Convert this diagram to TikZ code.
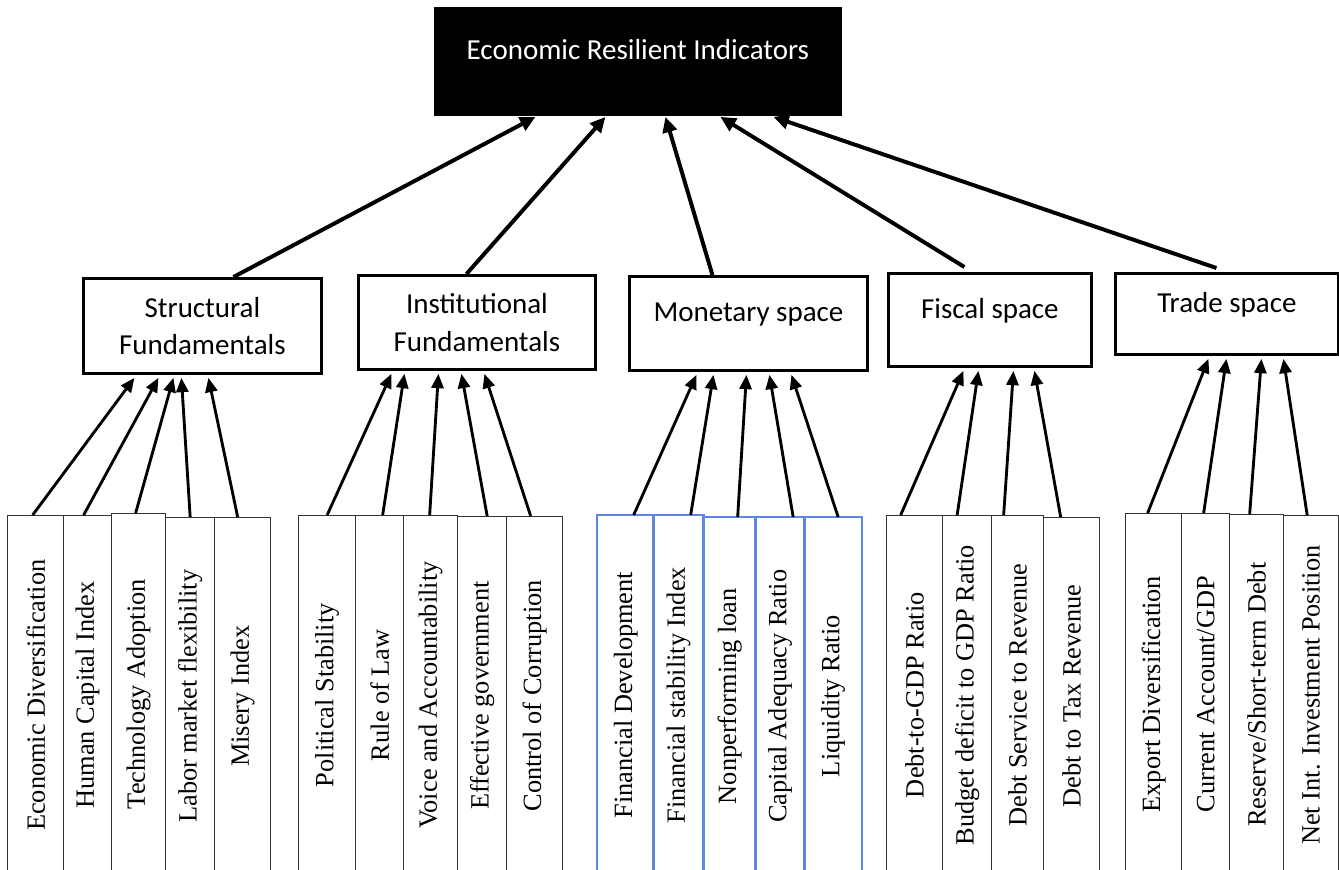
\documentclass[tikz,border=0pt]{standalone}
\usepackage{fontspec}
\setmainfont{Liberation Serif}
\newfontfamily\calibri{Carlito}
\usepackage{tikz}
\usetikzlibrary{arrows.meta}
\usetikzlibrary{calc,positioning}
\usepackage{xcolor}
\definecolor{mblue}{RGB}{95,135,225}
\newcommand{\pxlen}{0.016cm}
\tikzstyle{upper>}=[line width=1.8pt, -{Triangle[length=7pt,width=6.5pt]}]
\tikzstyle{lower>}=[line width=1.3pt, -{Triangle[length=6.5pt,width=5.5pt]}]
\tikzstyle{groupbox}=[draw, line width=1.3pt, anchor=north west, inner sep=0pt, align=center, font=\calibri\fontsize{13.2}{17}\selectfont]
\tikzstyle{oneline}=[text height=4pt, text depth=5.5pt]
\tikzstyle{itembox}=[line width=0.6pt, anchor=north west, inner sep=0pt, font=\fontsize{12}{14}\selectfont]

\begin{document}
\begin{tikzpicture}[x=\pxlen, y=-\pxlen]
\useasboundingbox (0,0) rectangle (1339,869);

% top
\node[draw, fill=black, text=white, anchor=north west, inner sep=0pt, oneline,
  minimum width=407*\pxlen, minimum height=108*\pxlen,
  font=\calibri\fontsize{13.2}{17}\selectfont] (eri) at (434,7) {Economic Resilient Indicators};

% groups
\node[groupbox, minimum width=238*\pxlen, minimum height=95*\pxlen] (sf) at (82,277) {Structural\\Fundamentals};
\node[groupbox, minimum width=237*\pxlen, minimum height=94*\pxlen] (nf) at (357,274) {Institutional\\Fundamentals};
\node[groupbox, oneline, minimum width=238*\pxlen, minimum height=94*\pxlen] (ms) at (628,275) {Monetary space};
\node[groupbox, oneline, minimum width=203*\pxlen, minimum height=93*\pxlen] (fs) at (887,272) {Fiscal space};
\node[groupbox, oneline, minimum width=223*\pxlen, minimum height=81*\pxlen] (ts) at (1114,272) {Trade space};

% indicators
\foreach \nm/\lx/\w/\tp/\cl/\txt in {
  ed/7/56/515/black!80/Economic Diversification,
  hc/63/48/515/black!80/Human Capital Index,
  ta/111/54/513/black!80/Technology Adoption,
  lm/165/49/517/black!80/Labor market flexibility,
  mi/214/56/517/black!80/Misery Index,
  ps/298/57/515/black!80/Political Stability,
  rl/355/48/515/black!80/Rule of Law,
  va/403/54/515/black!80/Voice and Accountability,
  eg/457/49/516/black!80/Effective government,
  cc/506/56/516/black!80/Control of Corruption,
  fd/597/56/515/mblue/Financial Development,
  fi/653/50/515/mblue/Financial stability Index,
  nl/703/52/517/mblue/Nonperforming loan,
  ca/755/49/517/mblue/Capital Adequacy Ratio,
  lr/804/57/517/mblue/Liquidity Ratio,
  dg/886/56/515/black!80/Debt-to-GDP Ratio,
  bd/942/49/515/black!80/Budget deficit to GDP Ratio,
  dr/991/52/515/black!80/Debt Service to Revenue,
  dt/1043/56/517/black!80/Debt to Tax Revenue,
  ex/1125/56/513/black!80/Export Diversification,
  cg/1181/48/513/black!80/{Current Account/GDP},
  rs/1229/54/514/black!80/{Reserve/Short-term Debt},
  np/1283/55/515/black!80/Net Int. Investment Position}
  \node[itembox, draw=\cl, minimum width=\w*\pxlen, minimum height=(874-\tp)*\pxlen] (\nm) at (\lx,\tp) {\rotatebox{90}{\txt}};
% blue edges a little stronger
\foreach \nm in {fd,fi,nl,ca,lr}
  \draw[mblue, line width=0.7pt] (\nm.south west) |- (\nm.north east) -- (\nm.south east);

% indicators to groups
\foreach \a/\sx/\b/\tx in {
  ed/-3/sf/-68, hc/-4/sf/-44, ta/-3/sf/-29, lm/0/sf/-21, mi/-5/sf/6,
  ps/0/nf/-85.5, rl/3/nf/-72.5, va/-1/nf/-38.5, eg/5/nf/-15.5, cc/-4/nf/7.5,
  fd/8/ms/-52, fi/12/ms/-35, nl/8/ms/-2, ca/13/ms/21, lr/5/ms/43,
  dg/-14/fs/-26.5, bd/-10/fs/-11.5, dr/-14/fs/23.5, dt/-11/fs/44.5,
  ex/-6/ts/-18.5, cg/-2/ts/-0.5, rs/-7/ts/34.5, np/-4/ts/56.5}
  \draw[lower>] ($(\a.north)+(\sx,0)$) -- ($(\b.south)+(\tx,3)$);

% groups to top
\foreach \a/\sx/\sy/\tx in {sf/31/0/-102.5, nf/-10.5/0/-32.5, ms/-36/0/27.5, fs/-25.5/-5/82.5, ts/-10.5/-4/135.5}
  \draw[upper>] ($(\a.north)+(\sx,\sy)$) -- ($(eri.south)+(\tx,1)$);
\end{tikzpicture}
\end{document}
